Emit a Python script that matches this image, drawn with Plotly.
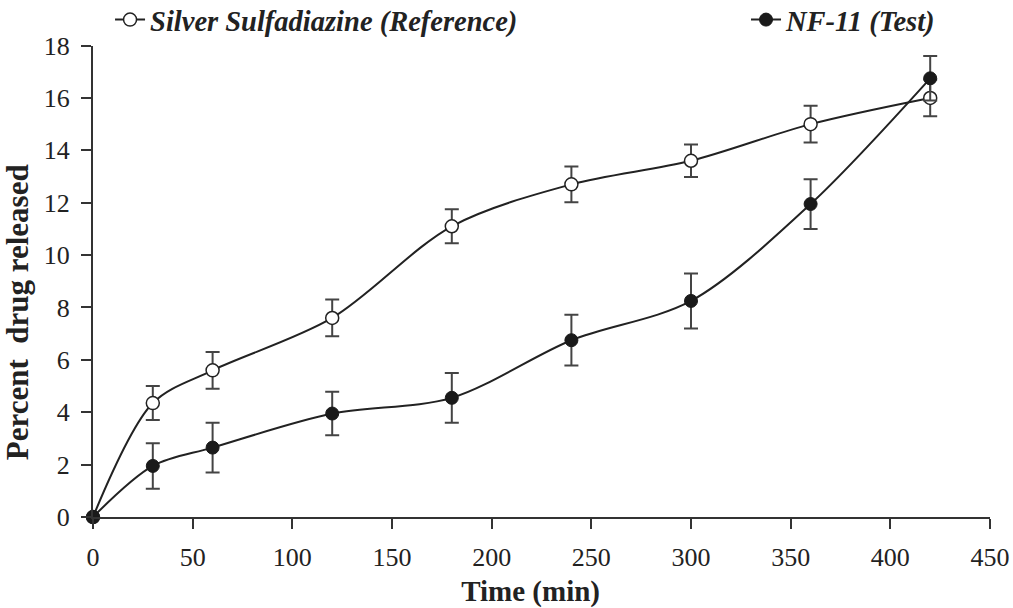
import plotly.graph_objects as go

time_min = [0, 30, 60, 120, 180, 240, 300, 360, 420]
ref_vals = [0, 4.35, 5.6, 7.6, 11.1, 12.7, 13.6, 15.0, 16.0]
ref_err = [0, 0.65, 0.7, 0.7, 0.65, 0.68, 0.62, 0.7, 0.7]
test_vals = [0, 1.95, 2.65, 3.95, 4.55, 6.75, 8.25, 11.95, 16.75]
test_err = [0, 0.87, 0.95, 0.83, 0.95, 0.97, 1.05, 0.95, 0.85]
x_ticks = [0, 50, 100, 150, 200, 250, 300, 350, 400, 450]
y_ticks = [0, 2, 4, 6, 8, 10, 12, 14, 16, 18]

FONT = "Liberation Serif"
NB = "\u00a0"
fig = go.Figure()
fig.add_trace(go.Scatter(
    x=time_min, y=ref_vals, mode="lines+markers", name="<b><i>Silver Sulfadiazine (Reference)</i></b>",
    line=dict(color="#222", width=2, shape="spline", smoothing=0.9),
    marker=dict(symbol="circle", size=13, color="white", line=dict(color="#222", width=1.5)),
    error_y=dict(type="data", array=ref_err, color="#444", thickness=2, width=7),
    cliponaxis=False, legend="legend"))
fig.add_trace(go.Scatter(
    x=time_min, y=test_vals, mode="lines+markers", name="<b><i>NF-11 (Test)</i></b>",
    line=dict(color="#222", width=2, shape="spline", smoothing=0.9),
    marker=dict(symbol="circle", size=13, color="#1a1a1a", line=dict(color="#1a1a1a", width=1)),
    error_y=dict(type="data", array=test_err, color="#444", thickness=2, width=7),
    cliponaxis=False, legend="legend2"))

legend_common = dict(yref="container", y=0.967, yanchor="middle", orientation="h",
                     font=dict(size=28.5, family=FONT, color="#222"), bgcolor="rgba(0,0,0,0)",
                     itemwidth=30)
fig.update_layout(
    width=1013, height=608,
    margin=dict(l=93, r=23, t=45, b=91),
    plot_bgcolor="white", paper_bgcolor="white",
    font=dict(family=FONT, color="#222", size=26),
    showlegend=True,
    legend=dict(x=0.019, xanchor="left", **legend_common),
    legend2=dict(x=0.728, xanchor="left", **legend_common),
    xaxis=dict(range=[0, 450], tickvals=x_ticks, ticks="outside", ticklen=10, tickwidth=2,
               tickcolor="#333", showline=True, linecolor="#333", linewidth=2, showgrid=False,
               zeroline=False, tickfont=dict(size=26, family=FONT), automargin=False,
               ticklabelstandoff=6,
               title=dict(text="<b>Time (min)" + NB * 3 + "</b>", font=dict(size=29, family=FONT))),
    yaxis=dict(range=[0, 18], tickvals=y_ticks, ticks="outside", ticklen=10, tickwidth=2,
               tickcolor="#333", showline=True, linecolor="#333", linewidth=2, showgrid=False,
               zeroline=False, tickfont=dict(size=26, family=FONT), automargin=False,
               ticklabelstandoff=6,
               title=dict(text="<b>Percent  drug released" + NB * 8 + "</b>",
                          font=dict(size=31, family=FONT))),
)
fig.write_html("out.html", config={"displayModeBar": False},
               post_script="document.body.style.margin='0';")
